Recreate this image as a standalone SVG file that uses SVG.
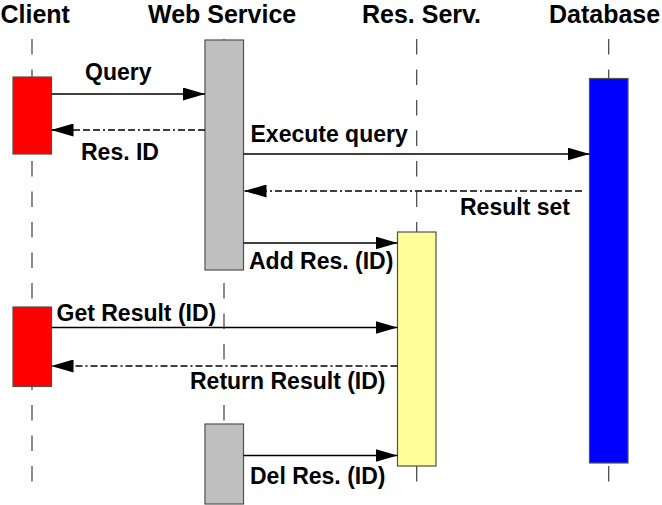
<svg xmlns="http://www.w3.org/2000/svg" width="662" height="505" viewBox="0 0 662 505">
  <style>
    .title { font-family: "Liberation Sans", Arial, sans-serif; font-weight: bold; font-size: 25px; fill: #000; }
    .label { font-family: "Liberation Sans", Arial, sans-serif; font-weight: bold; font-size: 23px; fill: #000; }
    .life { stroke: #404040; stroke-width: 1.2; stroke-dasharray: 15.5 15; fill: none; }
    .act { stroke: #505050; stroke-width: 1.2; }
    .msg { stroke: #000; stroke-width: 1.6; fill: none; marker-end: url(#arrow); }
    .ret { stroke: #000; stroke-width: 1.6; fill: none; stroke-dasharray: 7 3 7 3 7 3 2 3; marker-end: url(#arrow); }
  </style>
  <defs>
    <marker id="arrow" markerUnits="userSpaceOnUse" markerWidth="22" markerHeight="13" refX="22" refY="6.5" orient="auto">
      <path d="M0,0 L22,6.5 L0,13 Z" fill="#000"/>
    </marker>
  </defs>
  <rect width="662" height="505" fill="#fff"/>

  <g id="client">
    <text class="title" x="0.5" y="23">Client</text>
    <line class="life" x1="32" y1="39" x2="32" y2="490"/>
    <rect class="act" x="13" y="77" width="38.5" height="77" fill="#ff0000"/>
    <rect class="act" x="13" y="307" width="38.5" height="79.5" fill="#ff0000"/>
  </g>

  <g id="web-service">
    <text class="title" x="148" y="23">Web Service</text>
    <line class="life" x1="224" y1="39" x2="224" y2="490"/>
    <rect class="act" x="205" y="40" width="38.5" height="230" fill="#c0c0c0"/>
    <rect class="act" x="205" y="424" width="38.5" height="80" fill="#c0c0c0"/>
  </g>

  <g id="res-serv">
    <text class="title" x="362" y="23">Res. Serv.</text>
    <line class="life" x1="416.7" y1="39" x2="416.7" y2="490"/>
    <rect class="act" x="397.5" y="232" width="38.5" height="234" fill="#ffff99"/>
  </g>

  <g id="database">
    <text class="title" x="549" y="23">Database</text>
    <line class="life" x1="608.7" y1="39" x2="608.7" y2="490"/>
    <rect class="act" x="589.5" y="78.5" width="38.5" height="384.5" fill="#0000ff"/>
  </g>

  <g id="connectors">
    <line class="msg" x1="51.5" y1="94" x2="205" y2="94"/>
    <text class="label" x="85" y="80">Query</text>

    <line class="ret" x1="205" y1="130" x2="51.5" y2="130"/>
    <text class="label" x="81" y="160">Res. ID</text>

    <line class="msg" x1="243.5" y1="154" x2="589.5" y2="154"/>
    <text class="label" x="250.5" y="142">Execute query</text>

    <line class="ret" x1="582" y1="191" x2="244.5" y2="191"/>
    <text class="label" x="460" y="215">Result set</text>

    <line class="msg" x1="243.5" y1="243" x2="397.5" y2="243"/>
    <text class="label" x="249" y="268.5">Add Res. (ID)</text>

    <line class="msg" x1="51.5" y1="327.5" x2="397.5" y2="327.5"/>
    <text class="label" x="56.5" y="320.5">Get Result (ID)</text>

    <line class="ret" x1="397.5" y1="366" x2="51.5" y2="366"/>
    <text class="label" x="190" y="388.5">Return Result (ID)</text>

    <line class="msg" x1="243.5" y1="455.5" x2="397.5" y2="455.5"/>
    <text class="label" x="250" y="484">Del Res. (ID)</text>
  </g>
</svg>
